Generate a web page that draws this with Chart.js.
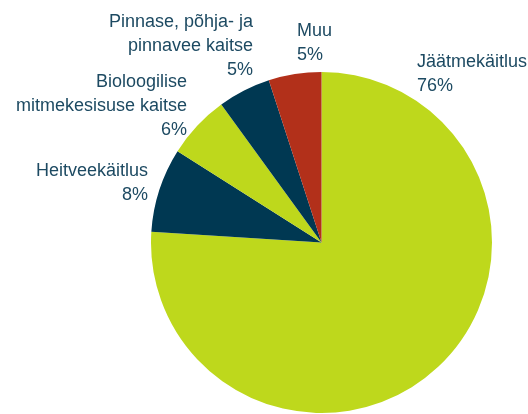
<!DOCTYPE html>
<html>
<head>
<meta charset="utf-8">
<script src="https://cdn.jsdelivr.net/npm/chart.js@4"></script>
<style>
    html, body { margin: 0; padding: 0; background: #ffffff; }
    #chart-container { width: 528px; height: 414px; }
</style>
</head>
<body>
<div id="chart-container"><canvas id="chart-pie"></canvas></div>
<script>
// chart data
const categories = [
    ['Jäätmekäitlus'],
    ['Heitveekäitlus'],
    ['Bioloogilise', 'mitmekesisuse kaitse'],
    ['Pinnase, põhja- ja', 'pinnavee kaitse'],
    ['Muu']
];
const shares = [76, 8, 6, 5, 5];
const sliceColors = ['#bed81c', '#003852', '#bed81c', '#003852', '#b2301a'];

// -------------------------------------------------------------------------------------------
// where each label block sits: x, first baseline, alignment
const labelPlacement = [
    { x: 417, y: 67, align: 'left' },
    { x: 148, y: 176, align: 'right' },
    { x: 187, y: 87, align: 'right' },
    { x: 253, y: 27, align: 'right' },
    { x: 297, y: 36, align: 'left' }
];

const outsideLabels = {
    id: 'outsideLabels',
    afterDraw(chart) {
        const ctx = chart.ctx;
        ctx.save();
        ctx.font = '18px "Liberation Sans", Arial, sans-serif';
        ctx.fillStyle = '#1d4a62';
        ctx.textBaseline = 'alphabetic';
        chart.data.labels.forEach((lines, i) => {
            const pos = labelPlacement[i];
            const allLines = lines.concat([chart.data.datasets[0].data[i] + '%']);
            ctx.textAlign = pos.align;
            allLines.forEach((line, j) => {
                ctx.fillText(line, pos.x, pos.y + j * 24);
            });
        });
        ctx.restore();
    }
};

let data = {
    labels: categories,
    datasets: [{
        data: shares,
        backgroundColor: sliceColors,
        borderWidth: 0
    }]
};

let options = {
    responsive: true,
    maintainAspectRatio: false,
    animation: false,
    layout: {
        padding: { top: 72, bottom: 1, left: 151, right: 36 }
    },
    plugins: {
        legend: { display: false },
        tooltip: { enabled: false },
        title: { display: false }
    }
};

new Chart('chart-pie', {
    type: 'pie',
    plugins: [outsideLabels],
    data: data,
    options: options
});
</script>
</body>
</html>
